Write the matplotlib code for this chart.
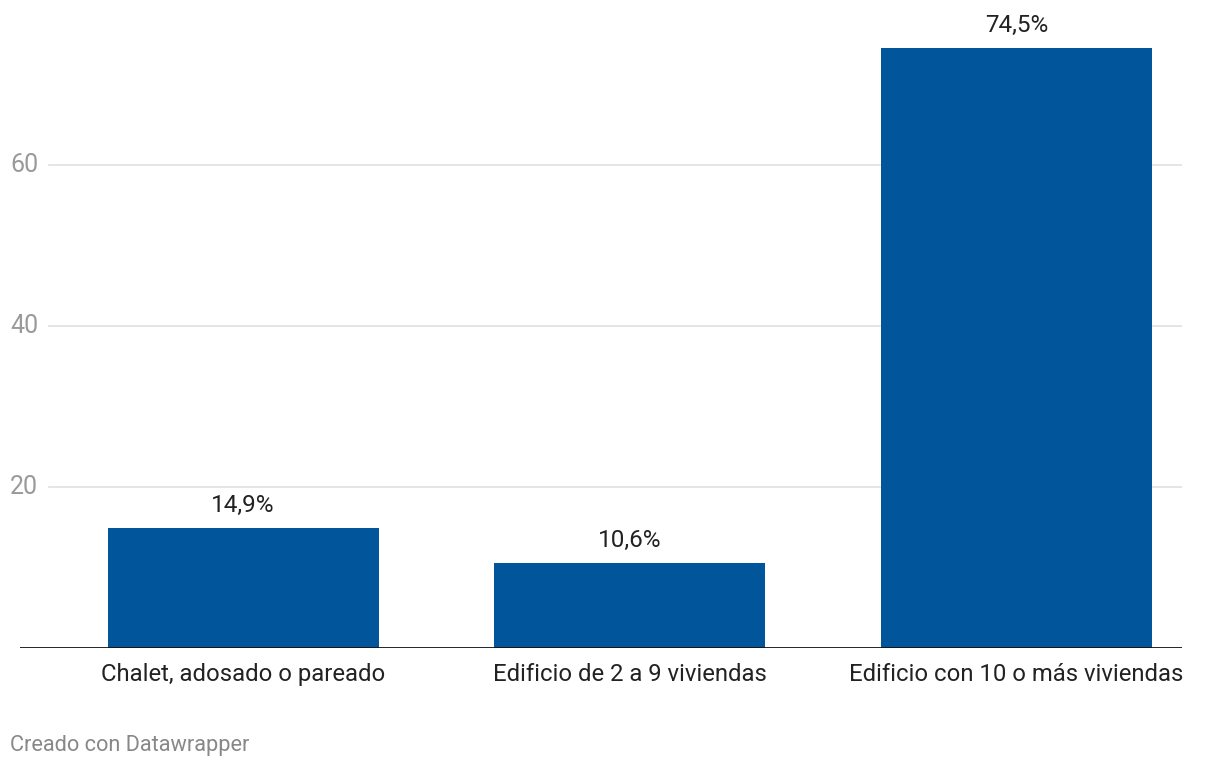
import matplotlib
matplotlib.use("Agg")
import matplotlib.pyplot as plt

categories = ["Chalet, adosado o pareado", "Edificio de 2 a 9 viviendas", "Edificio con 10 o más viviendas"]
values = [14.9, 10.6, 74.5]
value_labels = ["14,9%", "10,6%", "74,5%"]
yticks = [20, 40, 60]

W, H = 1220, 768
fig = plt.figure(figsize=(W / 100, H / 100), dpi=100)
plt.rcParams['font.family'] = ['Roboto', 'DejaVu Sans']

ax_left, ax_right = 20, 1182
ax_bottom, ax_top = 648, 40
ax = fig.add_axes([ax_left / W, 1 - ax_bottom / H, (ax_right - ax_left) / W, (ax_bottom - ax_top) / H])

spacing = 386.7
ax.set_xlim(-(243 - ax_left) / spacing, 2 + (ax_right - 1016.5) / spacing)
ax.set_ylim(0, (ax_bottom - ax_top) / 8.05)

color = "#01559A"
x = list(range(len(categories)))
ax.bar(x, values, width=271 / spacing, color=color, zorder=3)

for xi, v, lab in zip(x, values, value_labels):
    ax.annotate(lab, (xi, v), xytext=(0, 8), textcoords="offset points",
                ha="center", va="bottom", fontsize=17.5, color="#222222")

grid_start = (49 - ax_left) / (ax_right - ax_left)
ytrans = ax.get_yaxis_transform()
for t in yticks:
    ax.axhline(t, xmin=grid_start, xmax=1, color="#e3e3e3", lw=1.3, zorder=1)
    ax.text(-(ax_left - 10) / (ax_right - ax_left), t, str(t), transform=ytrans,
            ha="left", va="center", fontsize=18, color="#9a9a9a")

ax.axhline(0, color="#111111", lw=2.0, zorder=4)

ax.set_xticks(x)
ax.set_xticklabels(categories, fontsize=17.2, color="#222222")
ax.tick_params(axis="x", length=0, pad=11)
ax.set_yticks([])
for s in ax.spines.values():
    s.set_visible(False)

fig.text(10 / W, 1 - 745 / H, "Creado con Datawrapper", ha="left", va="center",
         fontsize=15.7, color="#888888")

fig.savefig("out.png", dpi=100)
